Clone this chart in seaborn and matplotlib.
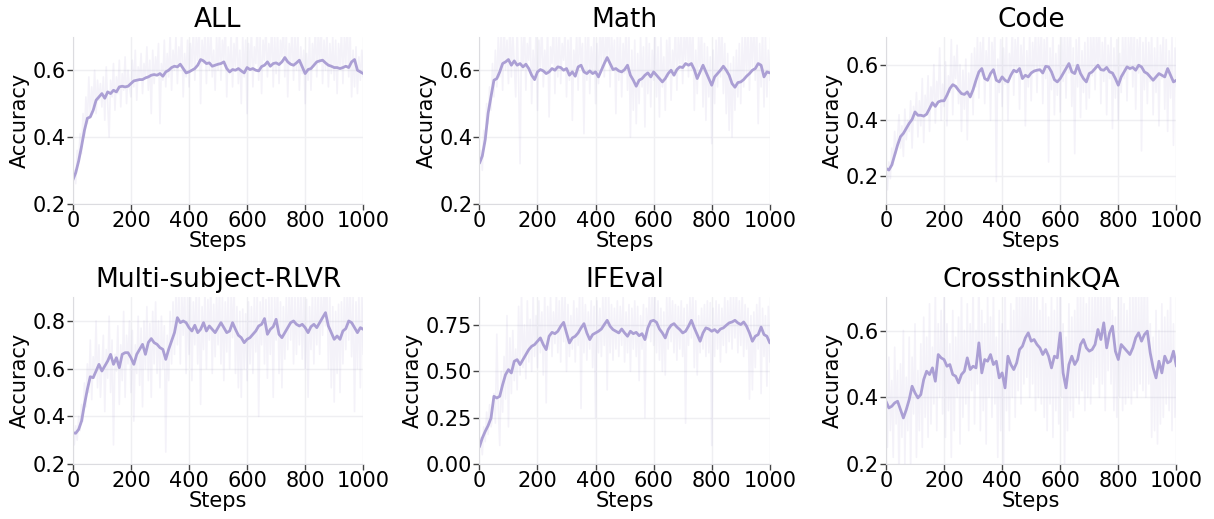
import numpy as np
import pandas as pd
import matplotlib
matplotlib.use("Agg")
import matplotlib.pyplot as plt
import seaborn as sns

# raw accuracy sampled every 5 steps, smoothed curve every 10 steps
raw_steps = list(range(0, 1001, 5))
smooth_steps = list(range(0, 1001, 10))

titles = ["ALL", "Math", "Code", "Multi-subject-RLVR", "IFEval", "CrossthinkQA"]

all_raw = [
    0.27, 0.30, 0.26, 0.36, 0.33, 0.41, 0.35, 0.47, 0.40, 0.52, 0.44, 0.58, 0.46, 0.55, 0.49, 0.60, 0.47, 0.57, 0.51, 0.56,
    0.49, 0.58, 0.45, 0.61, 0.50, 0.40, 0.57, 0.52, 0.62, 0.48, 0.58, 0.53, 0.63, 0.49, 0.59, 0.54, 0.64, 0.50, 0.60, 0.55,
    0.52, 0.63, 0.55, 0.66, 0.51, 0.61, 0.57, 0.65, 0.53, 0.62, 0.58, 0.67, 0.54, 0.63, 0.47, 0.66, 0.56, 0.64, 0.59, 0.68,
    0.44, 0.62, 0.57, 0.69, 0.55, 0.65, 0.58, 0.71, 0.54, 0.66, 0.60, 0.70, 0.56, 0.67, 0.62, 0.72, 0.52, 0.65, 0.58, 0.69,
    0.55, 0.68, 0.61, 0.73, 0.57, 0.70, 0.63, 0.74, 0.50, 0.69, 0.62, 0.72, 0.56, 0.71, 0.60, 0.73, 0.58, 0.66, 0.54, 0.70,
    0.60, 0.72, 0.57, 0.69, 0.63, 0.74, 0.52, 0.67, 0.59, 0.71, 0.55, 0.68, 0.61, 0.73, 0.56, 0.66, 0.50, 0.70, 0.58, 0.69,
    0.47, 0.68, 0.60, 0.72, 0.55, 0.67, 0.62, 0.74, 0.57, 0.70, 0.53, 0.69, 0.63, 0.73, 0.58, 0.68, 0.61, 0.75, 0.55, 0.70,
    0.59, 0.72, 0.56, 0.69, 0.64, 0.74, 0.58, 0.71, 0.52, 0.68, 0.62, 0.73, 0.57, 0.70, 0.60, 0.72, 0.54, 0.67, 0.59, 0.66,
    0.50, 0.65, 0.57, 0.70, 0.54, 0.68, 0.61, 0.73, 0.58, 0.71, 0.62, 0.74, 0.56, 0.69, 0.60, 0.72, 0.55, 0.68, 0.59, 0.70,
    0.57, 0.69, 0.53, 0.68, 0.61, 0.72, 0.56, 0.70, 0.62, 0.75, 0.58, 0.71, 0.52, 0.66, 0.55, 0.67, 0.53, 0.64, 0.57, 0.66,
    0.58,
]
all_smooth = [
    0.271, 0.293, 0.328, 0.372, 0.420, 0.456, 0.460, 0.480, 0.510, 0.520,
    0.530, 0.516, 0.535, 0.530, 0.540, 0.535, 0.550, 0.552, 0.550, 0.552,
    0.560, 0.568, 0.570, 0.572, 0.572, 0.577, 0.580, 0.585, 0.587, 0.585,
    0.590, 0.582, 0.595, 0.600, 0.608, 0.612, 0.610, 0.618, 0.605, 0.592,
    0.595, 0.600, 0.605, 0.615, 0.632, 0.628, 0.620, 0.622, 0.612, 0.615,
    0.618, 0.620, 0.625, 0.605, 0.595, 0.602, 0.600, 0.605, 0.598, 0.592,
    0.608, 0.602, 0.605, 0.600, 0.598, 0.611, 0.615, 0.625, 0.612, 0.620,
    0.622, 0.617, 0.625, 0.638, 0.625, 0.618, 0.615, 0.622, 0.630, 0.610,
    0.590, 0.602, 0.605, 0.615, 0.625, 0.628, 0.630, 0.622, 0.615, 0.612,
    0.608, 0.608, 0.605, 0.608, 0.612, 0.608, 0.625, 0.632, 0.600, 0.595,
    0.590,
]

math_raw = [
    0.32, 0.36, 0.30, 0.42, 0.38, 0.50, 0.44, 0.55, 0.48, 0.62, 0.52, 0.66, 0.55, 0.70, 0.58, 0.72, 0.54, 0.74, 0.60, 0.69,
    0.56, 0.75, 0.58, 0.71, 0.62, 0.52, 0.73, 0.57, 0.32, 0.70, 0.60, 0.75, 0.54, 0.68, 0.63, 0.73, 0.50, 0.66, 0.57, 0.71,
    0.48, 0.69, 0.61, 0.74, 0.55, 0.66, 0.59, 0.72, 0.46, 0.67, 0.62, 0.75, 0.53, 0.70, 0.58, 0.73, 0.56, 0.68, 0.63, 0.72,
    0.52, 0.69, 0.57, 0.74, 0.45, 0.66, 0.60, 0.71, 0.54, 0.73, 0.62, 0.68, 0.41, 0.70, 0.57, 0.74, 0.53, 0.67, 0.59, 0.72,
    0.50, 0.68, 0.56, 0.73, 0.61, 0.75, 0.58, 0.71, 0.64, 0.76, 0.55, 0.72, 0.60, 0.69, 0.47, 0.73, 0.57, 0.70, 0.52, 0.68,
    0.59, 0.74, 0.54, 0.71, 0.40, 0.66, 0.48, 0.69, 0.44, 0.65, 0.50, 0.70, 0.55, 0.67, 0.43, 0.72, 0.53, 0.68, 0.49, 0.66,
    0.57, 0.73, 0.52, 0.67, 0.46, 0.70, 0.55, 0.64, 0.48, 0.69, 0.58, 0.72, 0.51, 0.66, 0.60, 0.74, 0.54, 0.70, 0.62, 0.73,
    0.56, 0.71, 0.63, 0.75, 0.58, 0.72, 0.60, 0.74, 0.48, 0.66, 0.53, 0.70, 0.61, 0.73, 0.49, 0.68, 0.45, 0.67, 0.52, 0.64,
    0.38, 0.66, 0.50, 0.69, 0.55, 0.72, 0.58, 0.74, 0.53, 0.68, 0.47, 0.65, 0.42, 0.62, 0.40, 0.64, 0.48, 0.66, 0.52, 0.68,
    0.50, 0.70, 0.55, 0.72, 0.58, 0.74, 0.54, 0.71, 0.61, 0.75, 0.57, 0.73, 0.44, 0.68, 0.55, 0.72, 0.49, 0.70, 0.52, 0.66,
    0.57,
]
math_smooth = [
    0.321, 0.343, 0.392, 0.471, 0.521, 0.570, 0.575, 0.595, 0.620, 0.625,
    0.632, 0.615, 0.628, 0.615, 0.620, 0.610, 0.618, 0.605, 0.585, 0.572,
    0.595, 0.602, 0.598, 0.590, 0.595, 0.605, 0.600, 0.610, 0.608, 0.600,
    0.605, 0.585, 0.595, 0.582, 0.610, 0.615, 0.595, 0.590, 0.598, 0.590,
    0.595, 0.580, 0.600, 0.620, 0.638, 0.620, 0.602, 0.605, 0.598, 0.595,
    0.602, 0.615, 0.585, 0.570, 0.552, 0.570, 0.575, 0.585, 0.592, 0.580,
    0.595, 0.585, 0.575, 0.565, 0.575, 0.590, 0.600, 0.585, 0.602, 0.610,
    0.608, 0.620, 0.615, 0.620, 0.602, 0.575, 0.595, 0.615, 0.595, 0.575,
    0.555, 0.580, 0.590, 0.600, 0.612, 0.600, 0.585, 0.560, 0.549, 0.563,
    0.565, 0.572, 0.582, 0.590, 0.600, 0.605, 0.620, 0.615, 0.580, 0.595,
    0.592,
]

code_raw = [
    0.22, 0.15, 0.25, 0.19, 0.30, 0.24, 0.36, 0.28, 0.34, 0.42, 0.30, 0.38, 0.27, 0.44, 0.33, 0.40, 0.36, 0.47, 0.30, 0.45,
    0.40, 0.50, 0.34, 0.47, 0.38, 0.55, 0.32, 0.49, 0.42, 0.56, 0.36, 0.52, 0.45, 0.60, 0.39, 0.54, 0.47, 0.66, 0.40, 0.53,
    0.45, 0.61, 0.38, 0.56, 0.50, 0.69, 0.42, 0.63, 0.55, 0.67, 0.46, 0.60, 0.36, 0.58, 0.44, 0.62, 0.33, 0.57, 0.48, 0.64,
    0.42, 0.66, 0.52, 0.70, 0.48, 0.68, 0.56, 0.72, 0.46, 0.65, 0.54, 0.71, 0.40, 0.68, 0.57, 0.73, 0.18, 0.62, 0.50, 0.69,
    0.45, 0.66, 0.53, 0.71, 0.40, 0.64, 0.56, 0.74, 0.49, 0.69, 0.58, 0.72, 0.44, 0.67, 0.55, 0.70, 0.38, 0.65, 0.52, 0.71,
    0.47, 0.68, 0.57, 0.74, 0.50, 0.70, 0.59, 0.73, 0.46, 0.69, 0.55, 0.75, 0.25, 0.66, 0.51, 0.72, 0.42, 0.64, 0.49, 0.67,
    0.43, 0.70, 0.54, 0.73, 0.48, 0.71, 0.57, 0.74, 0.45, 0.66, 0.28, 0.69, 0.52, 0.72, 0.41, 0.65, 0.50, 0.68, 0.44, 0.70,
    0.48, 0.71, 0.56, 0.74, 0.51, 0.72, 0.59, 0.75, 0.46, 0.68, 0.54, 0.73, 0.42, 0.67, 0.55, 0.71, 0.37, 0.66, 0.48, 0.69,
    0.40, 0.64, 0.50, 0.71, 0.55, 0.73, 0.47, 0.70, 0.58, 0.75, 0.52, 0.72, 0.44, 0.69, 0.57, 0.74, 0.29, 0.68, 0.51, 0.71,
    0.46, 0.68, 0.54, 0.72, 0.42, 0.66, 0.50, 0.70, 0.38, 0.67, 0.55, 0.73, 0.44, 0.69, 0.36, 0.65, 0.48, 0.70, 0.31, 0.66,
    0.52,
]
code_smooth = [
    0.227, 0.221, 0.239, 0.275, 0.311, 0.341, 0.353, 0.371, 0.389, 0.403,
    0.430, 0.418, 0.418, 0.415, 0.422, 0.442, 0.463, 0.450, 0.466, 0.470,
    0.470, 0.490, 0.514, 0.528, 0.522, 0.508, 0.496, 0.493, 0.502, 0.484,
    0.510, 0.544, 0.574, 0.586, 0.550, 0.544, 0.568, 0.582, 0.544, 0.538,
    0.556, 0.544, 0.538, 0.562, 0.580, 0.574, 0.586, 0.550, 0.562, 0.556,
    0.570, 0.577, 0.580, 0.582, 0.570, 0.594, 0.592, 0.574, 0.546, 0.538,
    0.550, 0.568, 0.586, 0.604, 0.574, 0.568, 0.598, 0.568, 0.550, 0.538,
    0.568, 0.574, 0.586, 0.598, 0.582, 0.580, 0.590, 0.574, 0.570, 0.550,
    0.526, 0.556, 0.574, 0.592, 0.586, 0.590, 0.580, 0.598, 0.592, 0.574,
    0.568, 0.556, 0.544, 0.556, 0.568, 0.562, 0.556, 0.586, 0.562, 0.538,
    0.544,
]

multi_raw = [
    0.33, 0.28, 0.36, 0.30, 0.40, 0.34, 0.45, 0.38, 0.54, 0.44, 0.62, 0.50, 0.72, 0.47, 0.65, 0.56, 0.80, 0.52, 0.70, 0.48,
    0.60, 0.74, 0.42, 0.68, 0.56, 0.82, 0.50, 0.72, 0.28, 0.66, 0.59, 0.78, 0.45, 0.70, 0.55, 0.84, 0.48, 0.74, 0.62, 0.80,
    0.50, 0.76, 0.38, 0.70, 0.58, 0.82, 0.53, 0.77, 0.44, 0.80, 0.60, 0.86, 0.55, 0.79, 0.48, 0.84, 0.62, 0.88, 0.58, 0.80,
    0.52, 0.82, 0.60, 0.78, 0.25, 0.74, 0.55, 0.84, 0.62, 0.88, 0.66, 0.92, 0.70, 0.94, 0.62, 0.92, 0.74, 0.95, 0.58, 0.90,
    0.66, 0.92, 0.55, 0.88, 0.70, 0.94, 0.62, 0.90, 0.45, 0.86, 0.68, 0.93, 0.60, 0.89, 0.72, 0.95, 0.58, 0.87, 0.65, 0.91,
    0.70, 0.94, 0.62, 0.90, 0.55, 0.88, 0.67, 0.93, 0.60, 0.91, 0.73, 0.96, 0.58, 0.86, 0.52, 0.84, 0.48, 0.85, 0.60, 0.83,
    0.55, 0.88, 0.62, 0.86, 0.58, 0.90, 0.67, 0.92, 0.40, 0.88, 0.70, 0.95, 0.62, 0.89, 0.56, 0.91, 0.66, 0.93, 0.48, 0.90,
    0.72, 0.96, 0.58, 0.88, 0.52, 0.86, 0.64, 0.90, 0.68, 0.93, 0.72, 0.95, 0.62, 0.90, 0.66, 0.92, 0.70, 0.94, 0.64, 0.91,
    0.60, 0.89, 0.48, 0.86, 0.68, 0.92, 0.62, 0.90, 0.70, 0.94, 0.66, 0.91, 0.74, 0.97, 0.78, 0.98, 0.60, 0.90, 0.52, 0.86,
    0.46, 0.84, 0.58, 0.87, 0.50, 0.88, 0.62, 0.91, 0.68, 0.94, 0.72, 0.95, 0.65, 0.90, 0.42, 0.88, 0.60, 0.92, 0.52, 0.91,
    0.66,
]
multi_smooth = [
    0.331, 0.329, 0.345, 0.380, 0.450, 0.513, 0.566, 0.562, 0.590, 0.618,
    0.590, 0.611, 0.632, 0.660, 0.618, 0.646, 0.604, 0.660, 0.667, 0.667,
    0.646, 0.618, 0.660, 0.681, 0.702, 0.660, 0.710, 0.726, 0.709, 0.702,
    0.688, 0.681, 0.639, 0.681, 0.716, 0.751, 0.814, 0.793, 0.800, 0.793,
    0.772, 0.758, 0.782, 0.751, 0.765, 0.793, 0.758, 0.779, 0.765, 0.751,
    0.772, 0.793, 0.772, 0.751, 0.758, 0.793, 0.765, 0.740, 0.730, 0.709,
    0.723, 0.730, 0.744, 0.758, 0.779, 0.786, 0.810, 0.744, 0.765, 0.776,
    0.807, 0.744, 0.730, 0.751, 0.772, 0.793, 0.800, 0.786, 0.779, 0.786,
    0.772, 0.751, 0.776, 0.786, 0.772, 0.793, 0.814, 0.835, 0.779, 0.751,
    0.723, 0.737, 0.723, 0.758, 0.768, 0.800, 0.793, 0.772, 0.751, 0.772,
    0.765,
]

ifeval_raw = [
    0.08, 0.14, 0.05, 0.20, 0.12, 0.28, 0.16, 0.32, 0.20, 0.25, 0.38, 0.22, 0.70, 0.30, 0.10, 0.50, 0.28, 0.58, 0.35, 0.80,
    0.20, 0.68, 0.38, 0.72, 0.45, 0.62, 0.40, 0.85, 0.48, 0.92, 0.52, 0.75, 0.46, 0.88, 0.55, 0.78, 0.50, 0.92, 0.58, 0.80,
    0.52, 0.88, 0.60, 0.82, 0.48, 0.92, 0.33, 0.85, 0.62, 0.90, 0.58, 0.82, 0.65, 0.92, 0.60, 0.88, 0.55, 0.94, 0.66, 0.90,
    0.50, 0.86, 0.58, 0.80, 0.62, 0.88, 0.55, 0.84, 0.64, 0.92, 0.30, 0.90, 0.60, 0.86, 0.56, 0.82, 0.62, 0.88, 0.52, 0.85,
    0.25, 0.88, 0.60, 0.84, 0.58, 0.90, 0.64, 0.94, 0.40, 0.92, 0.60, 0.86, 0.56, 0.84, 0.62, 0.88, 0.58, 0.85, 0.64, 0.90,
    0.55, 0.82, 0.60, 0.86, 0.50, 0.84, 0.62, 0.88, 0.58, 0.85, 0.45, 0.80, 0.62, 0.86, 0.25, 0.84, 0.68, 0.92, 0.66, 0.94,
    0.64, 0.92, 0.60, 0.88, 0.56, 0.84, 0.50, 0.82, 0.48, 0.90, 0.62, 0.92, 0.66, 0.88, 0.60, 0.86, 0.56, 0.85, 0.62, 0.88,
    0.58, 0.84, 0.22, 0.86, 0.64, 0.90, 0.68, 0.94, 0.52, 0.88, 0.48, 0.80, 0.60, 0.84, 0.62, 0.86, 0.58, 0.88, 0.60, 0.87,
    0.10, 0.84, 0.58, 0.88, 0.62, 0.86, 0.55, 0.84, 0.64, 0.90, 0.60, 0.88, 0.66, 0.92, 0.62, 0.90, 0.68, 0.94, 0.60, 0.88,
    0.64, 0.92, 0.58, 0.86, 0.62, 0.84, 0.35, 0.80, 0.40, 0.82, 0.52, 0.86, 0.62, 0.90, 0.38, 0.84, 0.58, 0.80, 0.42, 0.85,
    0.55,
]
ifeval_smooth = [
    0.092, 0.140, 0.176, 0.207, 0.248, 0.365, 0.356, 0.365, 0.428, 0.482,
    0.509, 0.491, 0.554, 0.563, 0.536, 0.563, 0.590, 0.617, 0.635, 0.644,
    0.662, 0.680, 0.644, 0.617, 0.689, 0.710, 0.703, 0.716, 0.743, 0.764,
    0.707, 0.653, 0.680, 0.689, 0.707, 0.734, 0.757, 0.707, 0.671, 0.698,
    0.707, 0.716, 0.728, 0.752, 0.775, 0.743, 0.725, 0.716, 0.707, 0.728,
    0.707, 0.689, 0.716, 0.703, 0.710, 0.692, 0.703, 0.671, 0.734, 0.770,
    0.775, 0.764, 0.728, 0.707, 0.680, 0.725, 0.748, 0.757, 0.739, 0.725,
    0.707, 0.716, 0.743, 0.775, 0.734, 0.698, 0.662, 0.707, 0.734, 0.728,
    0.716, 0.725, 0.710, 0.728, 0.734, 0.748, 0.761, 0.766, 0.775, 0.761,
    0.752, 0.766, 0.743, 0.707, 0.662, 0.689, 0.698, 0.739, 0.698, 0.689,
    0.653,
]

cross_raw = [
    0.38, 0.25, 0.52, 0.30, 0.45, 0.22, 0.55, 0.32, 0.48, 0.15, 0.50, 0.28, 0.60, 0.20, 0.46, 0.30, 0.58, 0.18, 0.52, 0.35,
    0.62, 0.22, 0.48, 0.30, 0.56, 0.25, 0.64, 0.34, 0.58, 0.28, 0.68, 0.32, 0.55, 0.38, 0.72, 0.30, 0.62, 0.40, 0.66, 0.35,
    0.70, 0.28, 0.62, 0.36, 0.56, 0.22, 0.66, 0.30, 0.58, 0.40, 0.64, 0.26, 0.72, 0.34, 0.60, 0.38, 0.68, 0.30, 0.62, 0.42,
    0.74, 0.32, 0.60, 0.44, 0.78, 0.30, 0.66, 0.36, 0.62, 0.26, 0.70, 0.40, 0.64, 0.34, 0.72, 0.38, 0.58, 0.22, 0.66, 0.30,
    0.62, 0.18, 0.74, 0.36, 0.60, 0.30, 0.68, 0.40, 0.66, 0.34, 0.76, 0.42, 0.72, 0.38, 0.78, 0.44, 0.74, 0.46, 0.80, 0.40,
    0.72, 0.44, 0.70, 0.36, 0.74, 0.40, 0.66, 0.38, 0.72, 0.34, 0.68, 0.30, 0.64, 0.38, 0.70, 0.28, 0.66, 0.36, 0.70, 0.32,
    0.80, 0.40, 0.62, 0.20, 0.58, 0.30, 0.68, 0.36, 0.64, 0.34, 0.66, 0.40, 0.74, 0.38, 0.72, 0.42, 0.70, 0.36, 0.68, 0.40,
    0.72, 0.38, 0.70, 0.44, 0.78, 0.46, 0.74, 0.40, 0.82, 0.44, 0.70, 0.36, 0.76, 0.48, 0.78, 0.44, 0.66, 0.36, 0.64, 0.34,
    0.70, 0.40, 0.72, 0.36, 0.68, 0.38, 0.66, 0.40, 0.70, 0.38, 0.74, 0.42, 0.78, 0.40, 0.72, 0.44, 0.76, 0.42, 0.78, 0.40,
    0.72, 0.44, 0.62, 0.28, 0.58, 0.30, 0.66, 0.26, 0.60, 0.32, 0.68, 0.34, 0.64, 0.38, 0.66, 0.36, 0.70, 0.30, 0.62, 0.34,
    0.52,
]
cross_smooth = [
    0.388, 0.368, 0.373, 0.383, 0.388, 0.363, 0.338, 0.363, 0.393, 0.433,
    0.413, 0.398, 0.408, 0.453, 0.478, 0.468, 0.488, 0.448, 0.528, 0.518,
    0.513, 0.493, 0.498, 0.468, 0.463, 0.443, 0.468, 0.478, 0.518, 0.483,
    0.493, 0.488, 0.563, 0.473, 0.513, 0.508, 0.528, 0.498, 0.508, 0.458,
    0.473, 0.428, 0.523, 0.498, 0.483, 0.503, 0.543, 0.553, 0.578, 0.593,
    0.568, 0.573, 0.558, 0.548, 0.528, 0.543, 0.523, 0.488, 0.523, 0.518,
    0.593, 0.473, 0.428, 0.498, 0.523, 0.498, 0.513, 0.558, 0.573, 0.548,
    0.538, 0.543, 0.558, 0.603, 0.573, 0.623, 0.548, 0.593, 0.613, 0.538,
    0.513, 0.558, 0.548, 0.538, 0.528, 0.548, 0.578, 0.593, 0.568, 0.588,
    0.598, 0.533, 0.488, 0.458, 0.508, 0.473, 0.523, 0.503, 0.508, 0.538,
    0.493,
]

raw_series = [all_raw, math_raw, code_raw, multi_raw, ifeval_raw, cross_raw]
smooth_series = [all_smooth, math_smooth, code_smooth, multi_smooth, ifeval_smooth, cross_smooth]
ylims = [(0.2, 0.7), (0.2, 0.7), (0.1, 0.7), (0.2, 0.9), (0.0, 0.9), (0.2, 0.7)]
yticks = [
    [0.2, 0.4, 0.6],
    [0.2, 0.4, 0.6],
    [0.2, 0.4, 0.6],
    [0.2, 0.4, 0.6, 0.8],
    [0.0, 0.25, 0.5, 0.75],
    [0.2, 0.4, 0.6],
]

line_color = "#ab9fd4"

sns.set_style("whitegrid", {
    "grid.color": "#efeff2",
    "axes.edgecolor": "#dcdce0",
})
plt.rcParams["font.family"] = ["DejaVu Sans"]
plt.rcParams["text.color"] = "black"
plt.rcParams["axes.labelcolor"] = "black"
plt.rcParams["xtick.color"] = "black"
plt.rcParams["ytick.color"] = "black"

fig, axes = plt.subplots(2, 3, figsize=(12.14, 5.19), dpi=100)
plt.subplots_adjust(left=0.060, right=0.969, top=0.929, bottom=0.106,
                    wspace=0.40, hspace=0.56)

for i, ax in enumerate(axes.flat):
    sns.lineplot(x=raw_steps, y=raw_series[i], ax=ax, color=line_color,
                 alpha=0.13, linewidth=1.2)
    sns.lineplot(x=smooth_steps, y=smooth_series[i], ax=ax, color=line_color,
                 linewidth=2.0)
    ax.set_title(titles[i], fontsize=19, pad=7)
    ax.set_xlabel("Steps", fontsize=15, labelpad=0)
    ax.set_ylabel("Accuracy", fontsize=15, labelpad=2)
    ax.set_xlim(0, 1000)
    ax.set_ylim(*ylims[i])
    ax.set_xticks([0, 200, 400, 600, 800, 1000])
    ax.set_yticks(yticks[i])
    if i == 4:
        ax.set_yticklabels(["0.00", "0.25", "0.50", "0.75"])
    ax.tick_params(axis="both", labelsize=15, length=4, width=1,
                   color="#444444", pad=1, left=True, bottom=True)
    sns.despine(ax=ax)
    ax.grid(True, linewidth=1.0)

fig.savefig("out.png", dpi=100)
